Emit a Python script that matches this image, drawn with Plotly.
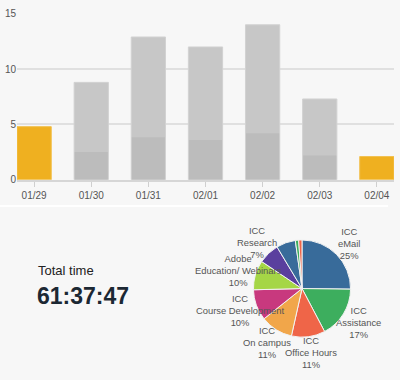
import math
import plotly.graph_objects as go

# ---- data ----
days = ["01/29", "01/30", "01/31", "02/01", "02/02", "02/03", "02/04"]
day_totals = [4.8, 8.8, 12.9, 12.0, 14.0, 7.3, 2.1]
day_lower = [None, 2.5, 3.85, 3.6, 4.2, 2.2, None]
highlight = [True, False, False, False, False, False, True]

slice_names = ["ICC eMail", "ICC Assistance", "ICC Office Hours", "ICC On campus",
               "ICC Course Development", "Adobe Education/ Webinars", "ICC Research",
               "ICC Other", "ICC Meetings", "ICC Training"]
slice_values = [25.2, 17.1, 11.2, 10.8, 10.3, 9.8, 7.0, 6.4, 1.1, 1.1]
palette = ["#386b9a", "#3dae5e", "#ef6548", "#f1a64a", "#c8397e", "#a5d646", "#5a3f9e"]

total_label = "Total time"
total_value = "61:37:47"

# ---- layout constants ----
W, H = 400, 380
BG = "#f7f7f7"
ORANGE = "#efb020"
GRAY_HI = "#c7c7c7"
GRAY_LO = "#bcbcbc"

fig = go.Figure()

fig.add_trace(go.Bar(
    x=days, y=day_totals, width=0.6,
    marker=dict(color=[ORANGE if h else GRAY_HI for h in highlight],
                line=dict(color=["#f2c150" if h else "#d2d2d2" for h in highlight], width=1)),
    hoverinfo="skip", showlegend=False))
fig.add_trace(go.Bar(
    x=days, y=day_lower, width=0.58,
    marker=dict(color=GRAY_LO, line=dict(width=0)),
    hoverinfo="skip", showlegend=False))

# pie domain in pixels
pie_cx, pie_cy, pie_r = 302, 292, 50
fig.add_trace(go.Pie(
    labels=slice_names, values=slice_values, sort=False, direction="clockwise",
    rotation=0, textinfo="none", hoverinfo="skip", showlegend=False,
    marker=dict(colors=[palette[i % len(palette)] for i in range(len(slice_values))],
                line=dict(color="#f2f2f2", width=1)),
    domain=dict(x=[(pie_cx - pie_r) / W, (pie_cx + pie_r) / W],
                y=[1 - (pie_cy + pie_r) / H, 1 - (pie_cy - pie_r) / H])))

annotations = []
total = sum(slice_values)
cum = 0.0
label_r = 66
for name, v in zip(slice_names, slice_values):
    pct = v / total * 100
    mid = (cum + v / 2) / total * 2 * math.pi
    cum += v
    if pct < 6.5:
        continue
    first, rest = name.split(" ", 1)
    xp = pie_cx + label_r * math.sin(mid)
    yp = pie_cy - label_r * math.cos(mid)
    annotations.append(dict(
        x=xp / W, y=1 - yp / H, xref="paper", yref="paper",
        text=f"{first}<br>{rest}<br>{round(pct)}%", showarrow=False,
        xanchor="center", yanchor="middle", align="center",
        font=dict(family="Arial", size=9.4, color="#555555")))

annotations.append(dict(x=36 / W, y=1 - 273 / H, xref="paper", yref="paper",
                        text=total_label, showarrow=False, xanchor="left", yanchor="middle",
                        font=dict(family="Arial", size=13, color="#222222")))
annotations.append(dict(x=35 / W, y=1 - 300 / H, xref="paper", yref="paper",
                        text=f"<b>{total_value}</b>", showarrow=False, xanchor="left",
                        yanchor="middle",
                        font=dict(family="Arial", size=23, color="#1c2833")))

fig.update_layout(
    width=W, height=H, margin=dict(l=0, r=0, t=0, b=0),
    paper_bgcolor=BG, plot_bgcolor=BG, barmode="overlay",
    annotations=annotations,
    xaxis=dict(domain=[17 / W, 394 / W], range=[-0.3, 6.3], showgrid=False,
               ticks="outside", ticklen=5, tickcolor="#cfcfcf", tickwidth=1,
               showline=True, linecolor="#d6d6d6", linewidth=2,
               tickfont=dict(family="Arial", size=10, color="#555555"), fixedrange=True),
    yaxis=dict(domain=[1 - 180 / H, 1 - 9 / H], range=[0, 15], tickvals=[0, 5, 10, 15],
               showgrid=True, gridcolor="#e0e0e0", gridwidth=2, zeroline=False,
               tickfont=dict(family="Arial", size=10, color="#555555"), fixedrange=True),
    shapes=[dict(type="line", xref="paper", yref="paper", x0=0, x1=388 / W,
                 y0=1 - 207 / H, y1=1 - 207 / H, line=dict(color="#ffffff", width=2))],
)

fig.write_html("out.html", config={"displayModeBar": False})

# remove the default page margin so the figure sits at the window's top-left corner
with open("out.html", encoding="utf-8") as f:
    html = f.read()
html = html.replace("<head>", "<head><style>html,body{margin:0;padding:0;background:#f7f7f7;overflow:hidden}</style>", 1)
with open("out.html", "w", encoding="utf-8") as f:
    f.write(html)
